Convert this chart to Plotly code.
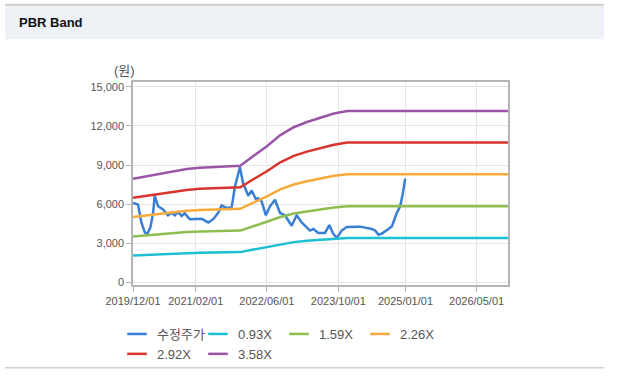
import plotly.graph_objects as go

# ---------------- data ----------------
price_dates = [
    "2019-12-01", "2020-01-04", "2020-01-27", "2020-02-19", "2020-03-06", "2020-03-29",
    "2020-04-16", "2020-04-27", "2020-05-20", "2020-06-23", "2020-07-27", "2020-08-19",
    "2020-09-11", "2020-10-03", "2020-10-27", "2020-11-18", "2020-12-22", "2021-02-06",
    "2021-03-13", "2021-04-27", "2021-05-31", "2021-07-04", "2021-07-27", "2021-08-30",
    "2021-10-03", "2021-10-26", "2021-11-06", "2021-11-29", "2021-12-21", "2022-01-25",
    "2022-02-17", "2022-03-18", "2022-04-03", "2022-04-26", "2022-05-25", "2022-06-22",
    "2022-07-26", "2022-08-29", "2022-10-02", "2022-11-17", "2022-12-21", "2023-01-24",
    "2023-03-22", "2023-04-14", "2023-05-18", "2023-07-02", "2023-08-01", "2023-08-24",
    "2023-09-20", "2023-10-24", "2023-11-28", "2024-02-26", "2024-05-16", "2024-06-08",
    "2024-07-01", "2024-07-24", "2024-09-07", "2024-09-30", "2024-11-03", "2024-11-26",
    "2024-12-14", "2024-12-30",
]
price_values = [
    6090, 5970, 4600, 3850, 3700, 4225,
    5340, 6640, 5840, 5600, 5150, 5340,
    5150, 5400, 5100, 5300, 4850, 4850,
    4880, 4600, 4850, 5340, 5900, 5720,
    5720, 7340, 7840, 8830, 7600, 6650,
    7050, 6380, 6460, 6220, 5150, 5840,
    6340, 5340, 5150, 4350, 5150, 4600,
    3980, 4100, 3800, 3800, 4400, 3800,
    3400, 3980, 4250, 4280, 4100, 3980,
    3650, 3750, 4100, 4300, 5340, 5840,
    6840, 7960,
]

band_dates = [
    "2019-12-01", "2020-03-01", "2020-06-01", "2020-09-01", "2020-12-01", "2021-03-01",
    "2021-06-01", "2021-09-01", "2021-12-01", "2022-03-01", "2022-06-01", "2022-09-01",
    "2022-12-01", "2023-03-01", "2023-06-01", "2023-09-01", "2023-12-01", "2026-12-01",
]
band_093 = [2065, 2117, 2169, 2208, 2260, 2286, 2299, 2312, 2325, 2520, 2715, 2936,
            3092, 3196, 3273, 3364, 3416, 3416]
band_159 = [3531, 3619, 3708, 3775, 3864, 3908, 3930, 3952, 3975, 4308, 4641, 5018,
            5285, 5462, 5596, 5751, 5840, 5840]
band_226 = [5019, 5145, 5271, 5366, 5492, 5555, 5587, 5619, 5650, 6124, 6597, 7134,
            7512, 7765, 7954, 8175, 8302, 8302]
band_292 = [6484, 6647, 6810, 6933, 7096, 7177, 7218, 7259, 7300, 7911, 8523, 9216,
            9706, 10032, 10277, 10562, 10725, 10725]
band_358 = [7950, 8150, 8350, 8500, 8700, 8800, 8850, 8900, 8950, 9700, 10450, 11300,
            11900, 12300, 12600, 12950, 13150, 13150]

series_names = ["수정주가", "0.93X", "1.59X", "2.26X", "2.92X", "3.58X"]
x_tick_vals = ["2019-12-01", "2021-02-01", "2022-06-01", "2023-10-01", "2025-01-01", "2026-05-01"]
x_tick_text = ["2019/12/01", "2021/02/01", "2022/06/01", "2023/10/01", "2025/01/01", "2026/05/01"]
y_tick_vals = [0, 3000, 6000, 9000, 12000, 15000]

# ---------------- styling ----------------
W, H = 618, 387
L, R, T, B = 133, 110, 82, 96
PW, PH = W - L - R, H - T - B

def px_x(p):
    return (p - L) / PW

def px_y(p):
    return (H - B - p) / PH

colors = ["#3a7fd5", "#1dbfd3", "#8dbe4f", "#f7aa3c", "#d8332c", "#9a55a6"]
font_main = "Liberation Sans, Arial, Noto Sans CJK KR, sans-serif"

fig = go.Figure()
all_x = [price_dates] + [band_dates] * 5
all_y = [price_values, band_093, band_159, band_226, band_292, band_358]
for name, xs, ys, col in zip(series_names, all_x, all_y, colors):
    fig.add_trace(go.Scatter(x=xs, y=ys, mode="lines", name=name, legendgroup=name,
                             showlegend=False, line=dict(color=col, width=2.5),
                             hoverinfo="skip"))
# legend entries with short line samples
for name, col in zip(series_names, colors):
    fig.add_trace(go.Scatter(x=[None], y=[None], mode="markers", name=name, legendgroup=name,
                             marker=dict(symbol="line-ew", size=14, color=col,
                                         line=dict(color=col, width=2.5))))

fig.update_layout(
    width=W, height=H,
    margin=dict(l=L, r=R, t=T, b=B),
    paper_bgcolor="white",
    plot_bgcolor="white",
    font=dict(family=font_main, size=11, color="#555555"),
    showlegend=True,
    legend=dict(
        orientation="h",
        xref="container", yref="container",
        x=117 / W, y=1 - 319 / H, xanchor="left", yanchor="top",
        entrywidth=36, entrywidthmode="pixels",
        font=dict(size=13, color="#555555", family=font_main),
        itemwidth=30, tracegroupgap=0,
        bgcolor="rgba(0,0,0,0)",
    ),
    xaxis=dict(
        type="date",
        range=["2019-12-01", "2026-12-01"],
        tickvals=x_tick_vals, ticktext=x_tick_text,
        showgrid=True, gridcolor="#e6e6e6", gridwidth=1,
        showline=True, linecolor="#b5b5b5", linewidth=1.5, mirror=True,
        ticks="outside", ticklen=5, tickcolor="#b5b5b5",
        tickfont=dict(size=11, color="#555555"),
        zeroline=False, fixedrange=True,
    ),
    yaxis=dict(
        range=[-200, 15370],
        tickvals=y_tick_vals, tickformat=",",
        showgrid=True, gridcolor="#e6e6e6", gridwidth=1,
        showline=True, linecolor="#b5b5b5", linewidth=1.5, mirror=True,
        ticks="outside", ticklen=5, tickcolor="#b5b5b5",
        tickfont=dict(size=11, color="#555555"),
        zeroline=False, fixedrange=True,
    ),
    shapes=[
        dict(type="rect", xref="paper", yref="paper",
             x0=px_x(5), x1=px_x(604), y0=px_y(38), y1=px_y(3),
             fillcolor="#eef2f7", line=dict(width=0), layer="below"),
        dict(type="line", xref="paper", yref="paper",
             x0=px_x(5), x1=px_x(604), y0=px_y(2.5), y1=px_y(2.5),
             line=dict(color="#cfcfcf", width=2)),
        dict(type="line", xref="paper", yref="paper",
             x0=px_x(5), x1=px_x(604), y0=px_y(376), y1=px_y(376),
             line=dict(color="#d0d0d0", width=1.5)),
    ],
    annotations=[
        dict(text="<b>PBR Band</b>", xref="paper", yref="paper",
             x=px_x(17), y=px_y(21), xanchor="left", yanchor="middle",
             showarrow=False, font=dict(size=13, color="#111111", family="Liberation Sans, Arial, sans-serif")),
        dict(text="(원)", xref="paper", yref="paper",
             x=px_x(124), y=px_y(70), xanchor="center", yanchor="middle",
             showarrow=False, font=dict(size=13, color="#555555", family=font_main)),
    ],
)

fig.write_html("out.html", config={"displayModeBar": False},
               post_script="document.body.style.margin='0';document.body.style.padding='0';")
